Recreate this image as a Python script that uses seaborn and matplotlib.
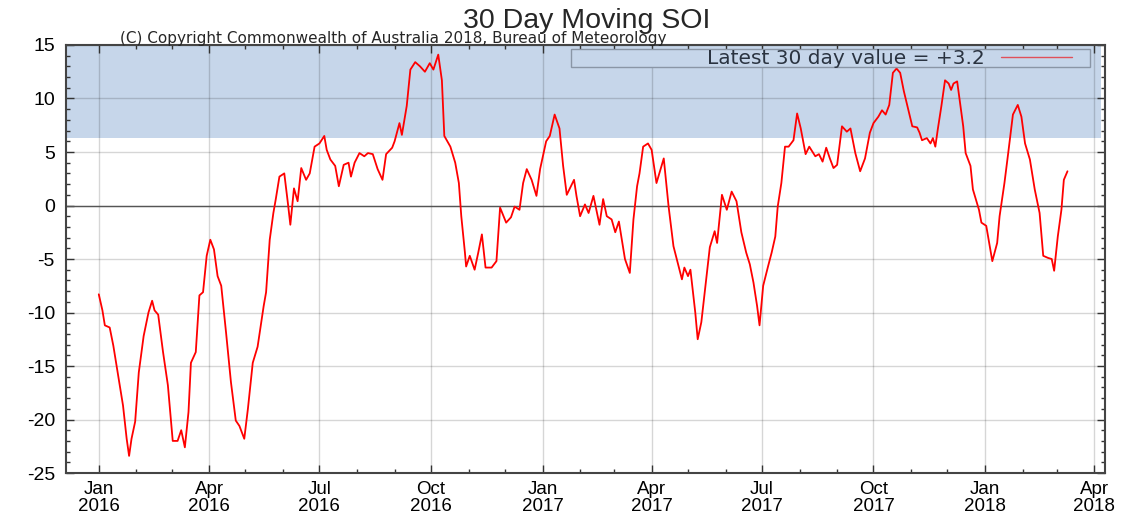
import pandas as pd
import seaborn as sns
import matplotlib.pyplot as plt
import matplotlib.dates as mdates
from matplotlib.patches import Rectangle
from matplotlib.lines import Line2D

# 30 day moving SOI
dates = [
    '2016-01-01', '2016-01-04', '2016-01-06', '2016-01-10', '2016-01-13', '2016-01-17',
    '2016-01-21', '2016-01-24', '2016-01-26', '2016-01-28', '2016-01-31', '2016-02-03',
    '2016-02-07', '2016-02-11', '2016-02-14', '2016-02-16', '2016-02-19', '2016-02-23',
    '2016-02-27', '2016-03-02', '2016-03-06', '2016-03-09', '2016-03-12', '2016-03-15',
    '2016-03-17', '2016-03-21', '2016-03-24', '2016-03-27', '2016-03-30', '2016-04-02',
    '2016-04-05', '2016-04-08', '2016-04-11', '2016-04-15', '2016-04-19', '2016-04-23',
    '2016-04-26', '2016-04-30', '2016-05-03', '2016-05-07', '2016-05-11', '2016-05-16',
    '2016-05-18', '2016-05-21', '2016-05-24', '2016-05-26', '2016-05-29', '2016-06-02',
    '2016-06-05', '2016-06-07', '2016-06-10', '2016-06-13', '2016-06-16', '2016-06-20',
    '2016-06-23', '2016-06-27', '2016-07-01', '2016-07-05', '2016-07-07', '2016-07-10',
    '2016-07-14', '2016-07-17', '2016-07-21', '2016-07-25', '2016-07-27', '2016-07-30',
    '2016-08-03', '2016-08-07', '2016-08-10', '2016-08-14', '2016-08-18', '2016-08-22',
    '2016-08-25', '2016-08-30', '2016-09-01', '2016-09-05', '2016-09-07', '2016-09-11',
    '2016-09-14', '2016-09-18', '2016-09-22', '2016-09-26', '2016-09-30', '2016-10-03',
    '2016-10-07', '2016-10-10', '2016-10-12', '2016-10-17', '2016-10-21', '2016-10-24',
    '2016-10-26', '2016-10-29', '2016-10-30', '2016-11-02', '2016-11-06', '2016-11-09',
    '2016-11-12', '2016-11-15', '2016-11-20', '2016-11-24', '2016-11-27', '2016-12-02',
    '2016-12-06', '2016-12-09', '2016-12-13', '2016-12-16', '2016-12-19', '2016-12-23',
    '2016-12-27', '2016-12-30', '2017-01-04', '2017-01-07', '2017-01-11', '2017-01-15',
    '2017-01-18', '2017-01-21', '2017-01-27', '2017-01-29', '2017-02-01', '2017-02-05',
    '2017-02-08', '2017-02-12', '2017-02-17', '2017-02-20', '2017-02-23', '2017-02-27',
    '2017-03-02', '2017-03-05', '2017-03-07', '2017-03-10', '2017-03-14', '2017-03-17',
    '2017-03-20', '2017-03-22', '2017-03-25', '2017-03-29', '2017-04-01', '2017-04-05',
    '2017-04-11', '2017-04-15', '2017-04-19', '2017-04-24', '2017-04-26', '2017-04-28',
    '2017-05-01', '2017-05-03', '2017-05-07', '2017-05-09', '2017-05-12', '2017-05-16',
    '2017-05-19', '2017-05-23', '2017-05-25', '2017-05-29', '2017-06-02', '2017-06-06',
    '2017-06-10', '2017-06-14', '2017-06-18', '2017-06-21', '2017-06-24', '2017-06-27',
    '2017-06-29', '2017-07-02', '2017-07-06', '2017-07-09', '2017-07-12', '2017-07-14',
    '2017-07-17', '2017-07-20', '2017-07-23', '2017-07-27', '2017-07-30', '2017-08-02',
    '2017-08-06', '2017-08-09', '2017-08-14', '2017-08-17', '2017-08-20', '2017-08-23',
    '2017-08-26', '2017-08-29', '2017-09-01', '2017-09-05', '2017-09-09', '2017-09-12',
    '2017-09-16', '2017-09-20', '2017-09-24', '2017-09-28', '2017-10-01', '2017-10-05',
    '2017-10-08', '2017-10-11', '2017-10-14', '2017-10-17', '2017-10-20', '2017-10-23',
    '2017-10-26', '2017-10-30', '2017-11-02', '2017-11-06', '2017-11-08', '2017-11-10',
    '2017-11-14', '2017-11-17', '2017-11-19', '2017-11-21', '2017-11-23', '2017-11-26',
    '2017-11-29', '2017-12-02', '2017-12-04', '2017-12-06', '2017-12-09', '2017-12-11',
    '2017-12-14', '2017-12-16', '2017-12-20', '2017-12-22', '2017-12-27', '2017-12-29',
    '2018-01-02', '2018-01-04', '2018-01-07', '2018-01-11', '2018-01-13', '2018-01-17',
    '2018-01-20', '2018-01-24', '2018-01-28', '2018-01-31', '2018-02-03', '2018-02-07',
    '2018-02-11', '2018-02-15', '2018-02-18', '2018-02-22', '2018-02-25', '2018-02-27',
    '2018-03-02', '2018-03-05', '2018-03-07', '2018-03-10',
]
soi = [
    -8.3, -9.8, -11.2, -11.4, -13.1, -15.9,
    -18.7, -21.8, -23.4, -21.8, -20.2, -15.6,
    -12.2, -10.0, -8.9, -9.8, -10.2, -13.7,
    -16.8, -22.0, -22.0, -21.0, -22.6, -19.3,
    -14.7, -13.7, -8.4, -8.1, -4.7, -3.2,
    -4.1, -6.6, -7.5, -11.9, -16.5, -20.1,
    -20.6, -21.8, -19.0, -14.7, -13.2, -9.4,
    -8.1, -3.2, -0.7, 0.6, 2.7, 3.0,
    0.2, -1.8, 1.6, 0.4, 3.5, 2.4,
    3.0, 5.5, 5.8, 6.5, 5.2, 4.3,
    3.7, 1.8, 3.8, 4.0, 2.7, 4.0,
    4.9, 4.6, 4.9, 4.8, 3.4, 2.4,
    4.8, 5.4, 6.0, 7.7, 6.6, 9.3,
    12.7, 13.4, 13.0, 12.5, 13.3, 12.7,
    14.1, 11.7, 6.5, 5.5, 4.0, 2.1,
    -1.0, -4.4, -5.7, -4.7, -6.0, -4.4,
    -2.7, -5.8, -5.8, -5.2, -0.2, -1.6,
    -1.1, -0.1, -0.4, 2.1, 3.4, 2.4,
    0.9, 3.4, 6.0, 6.5, 8.5, 7.2,
    3.7, 1.0, 2.4, 0.9, -1.0, 0.1,
    -0.7, 0.9, -1.8, 0.6, -1.0, -1.3,
    -2.5, -1.5, -2.9, -5.0, -6.3, -1.3,
    1.8, 3.0, 5.5, 5.8, 5.2, 2.1,
    4.4, -0.1, -3.8, -6.0, -6.9, -5.8,
    -6.6, -6.0, -10.0, -12.5, -10.9, -6.9,
    -3.9, -2.4, -3.5, 1.0, -0.4, 1.3,
    0.4, -2.5, -4.4, -5.5, -7.2, -9.4,
    -11.2, -7.5, -5.7, -4.4, -2.9, -0.1,
    2.1, 5.5, 5.5, 6.1, 8.6, 7.2,
    4.8, 5.5, 4.6, 4.8, 4.1, 5.4,
    4.4, 3.5, 3.8, 7.4, 6.9, 7.2,
    4.9, 3.2, 4.4, 6.8, 7.7, 8.3,
    8.9, 8.5, 9.4, 12.4, 12.8, 12.4,
    10.7, 8.8, 7.4, 7.3, 6.8, 6.1,
    6.3, 5.8, 6.3, 5.5, 7.1, 9.3,
    11.7, 11.4, 10.8, 11.4, 11.6, 9.9,
    7.4, 4.9, 3.7, 1.5, -0.4, -1.6,
    -1.9, -3.2, -5.2, -3.5, -1.0, 2.1,
    4.8, 8.5, 9.4, 8.3, 5.8, 4.3,
    1.5, -0.7, -4.7, -4.9, -5.0, -6.1,
    -2.9, -0.4, 2.4, 3.2,
]
latest = '+3.2'

df = pd.DataFrame({'date': pd.to_datetime(dates), 'soi': soi})

sns.set_style('ticks')
plt.rcParams['font.family'] = ['Liberation Sans', 'DejaVu Sans']
plt.rcParams['axes.unicode_minus'] = False

fig = plt.figure(figsize=(11.29, 5.19), dpi=100)
ax = fig.add_axes([0.0585, 0.0886, 0.9203, 0.8247])

# shaded area above +6.3
ax.axhspan(6.3, 15, xmin=0, xmax=0.996, color='#c6d6ea', lw=0, zorder=0)

sns.lineplot(data=df, x='date', y='soi', color='#ff0000', linewidth=1.3,
             estimator=None, ax=ax, zorder=3)
ax.axhline(0, color='#555555', linewidth=1, zorder=1)

ax.set_xlim(pd.Timestamp('2015-12-05'), pd.Timestamp('2018-04-10'))
ax.set_ylim(-25, 15)
ax.set_yticks(range(-25, 16, 5))
ax.set_yticks(range(-25, 16), minor=True)
ax.xaxis.set_major_locator(mdates.MonthLocator(bymonth=[1, 4, 7, 10]))
ax.xaxis.set_minor_locator(mdates.MonthLocator())
ax.xaxis.set_major_formatter(mdates.DateFormatter('%b\n%Y'))
ax.set_xlabel('')
ax.set_ylabel('')

ax.set_axisbelow(True)
ax.grid(True, which='major', color='#000000', alpha=0.16, linewidth=1)
ax.tick_params(which='both', direction='in', top=True, right=True, colors='#333333',
               labelcolor='black', labelsize=14)
ax.tick_params(which='major', length=6, width=1)
ax.tick_params(which='minor', length=3, width=1)
ax.tick_params(axis='y', pad=8)
ax.tick_params(axis='x', pad=6, labelsize=13.5)
for lab in ax.get_xticklabels():
    lab.set_linespacing(1.0)
for s in ax.spines.values():
    s.set_color('#444444')
    s.set_linewidth(1.5)

# legend box across the top
ax.add_patch(Rectangle((0.486, 0.9486), 0.4996, 0.042, transform=ax.transAxes,
                       facecolor='#c6d6ea', edgecolor='#8a96a6', lw=1, zorder=4))
handle = Line2D([], [], color='#e0505a', linewidth=1)
leg = ax.legend([handle], [f'Latest 30 day value = {latest}'], loc='center right',
                bbox_to_anchor=(0.968, 0.9693), frameon=False, markerfirst=False,
                prop={'family': 'DejaVu Sans', 'size': 14.5},
                handlelength=3.5, handletextpad=0.8, borderpad=0, borderaxespad=0)
leg.set_zorder(5)
for t in leg.get_texts():
    t.set_color('#2a3340')

fig.text(0.52, 0.947, '30 Day Moving SOI', ha='center', va='baseline', fontsize=20.5)
fig.text(0.106, 0.918, '(C) Copyright Commonwealth of Australia 2018, Bureau of Meteorology',
         ha='left', va='baseline', fontsize=11, family='DejaVu Sans')

fig.savefig('out.png', dpi=100)
